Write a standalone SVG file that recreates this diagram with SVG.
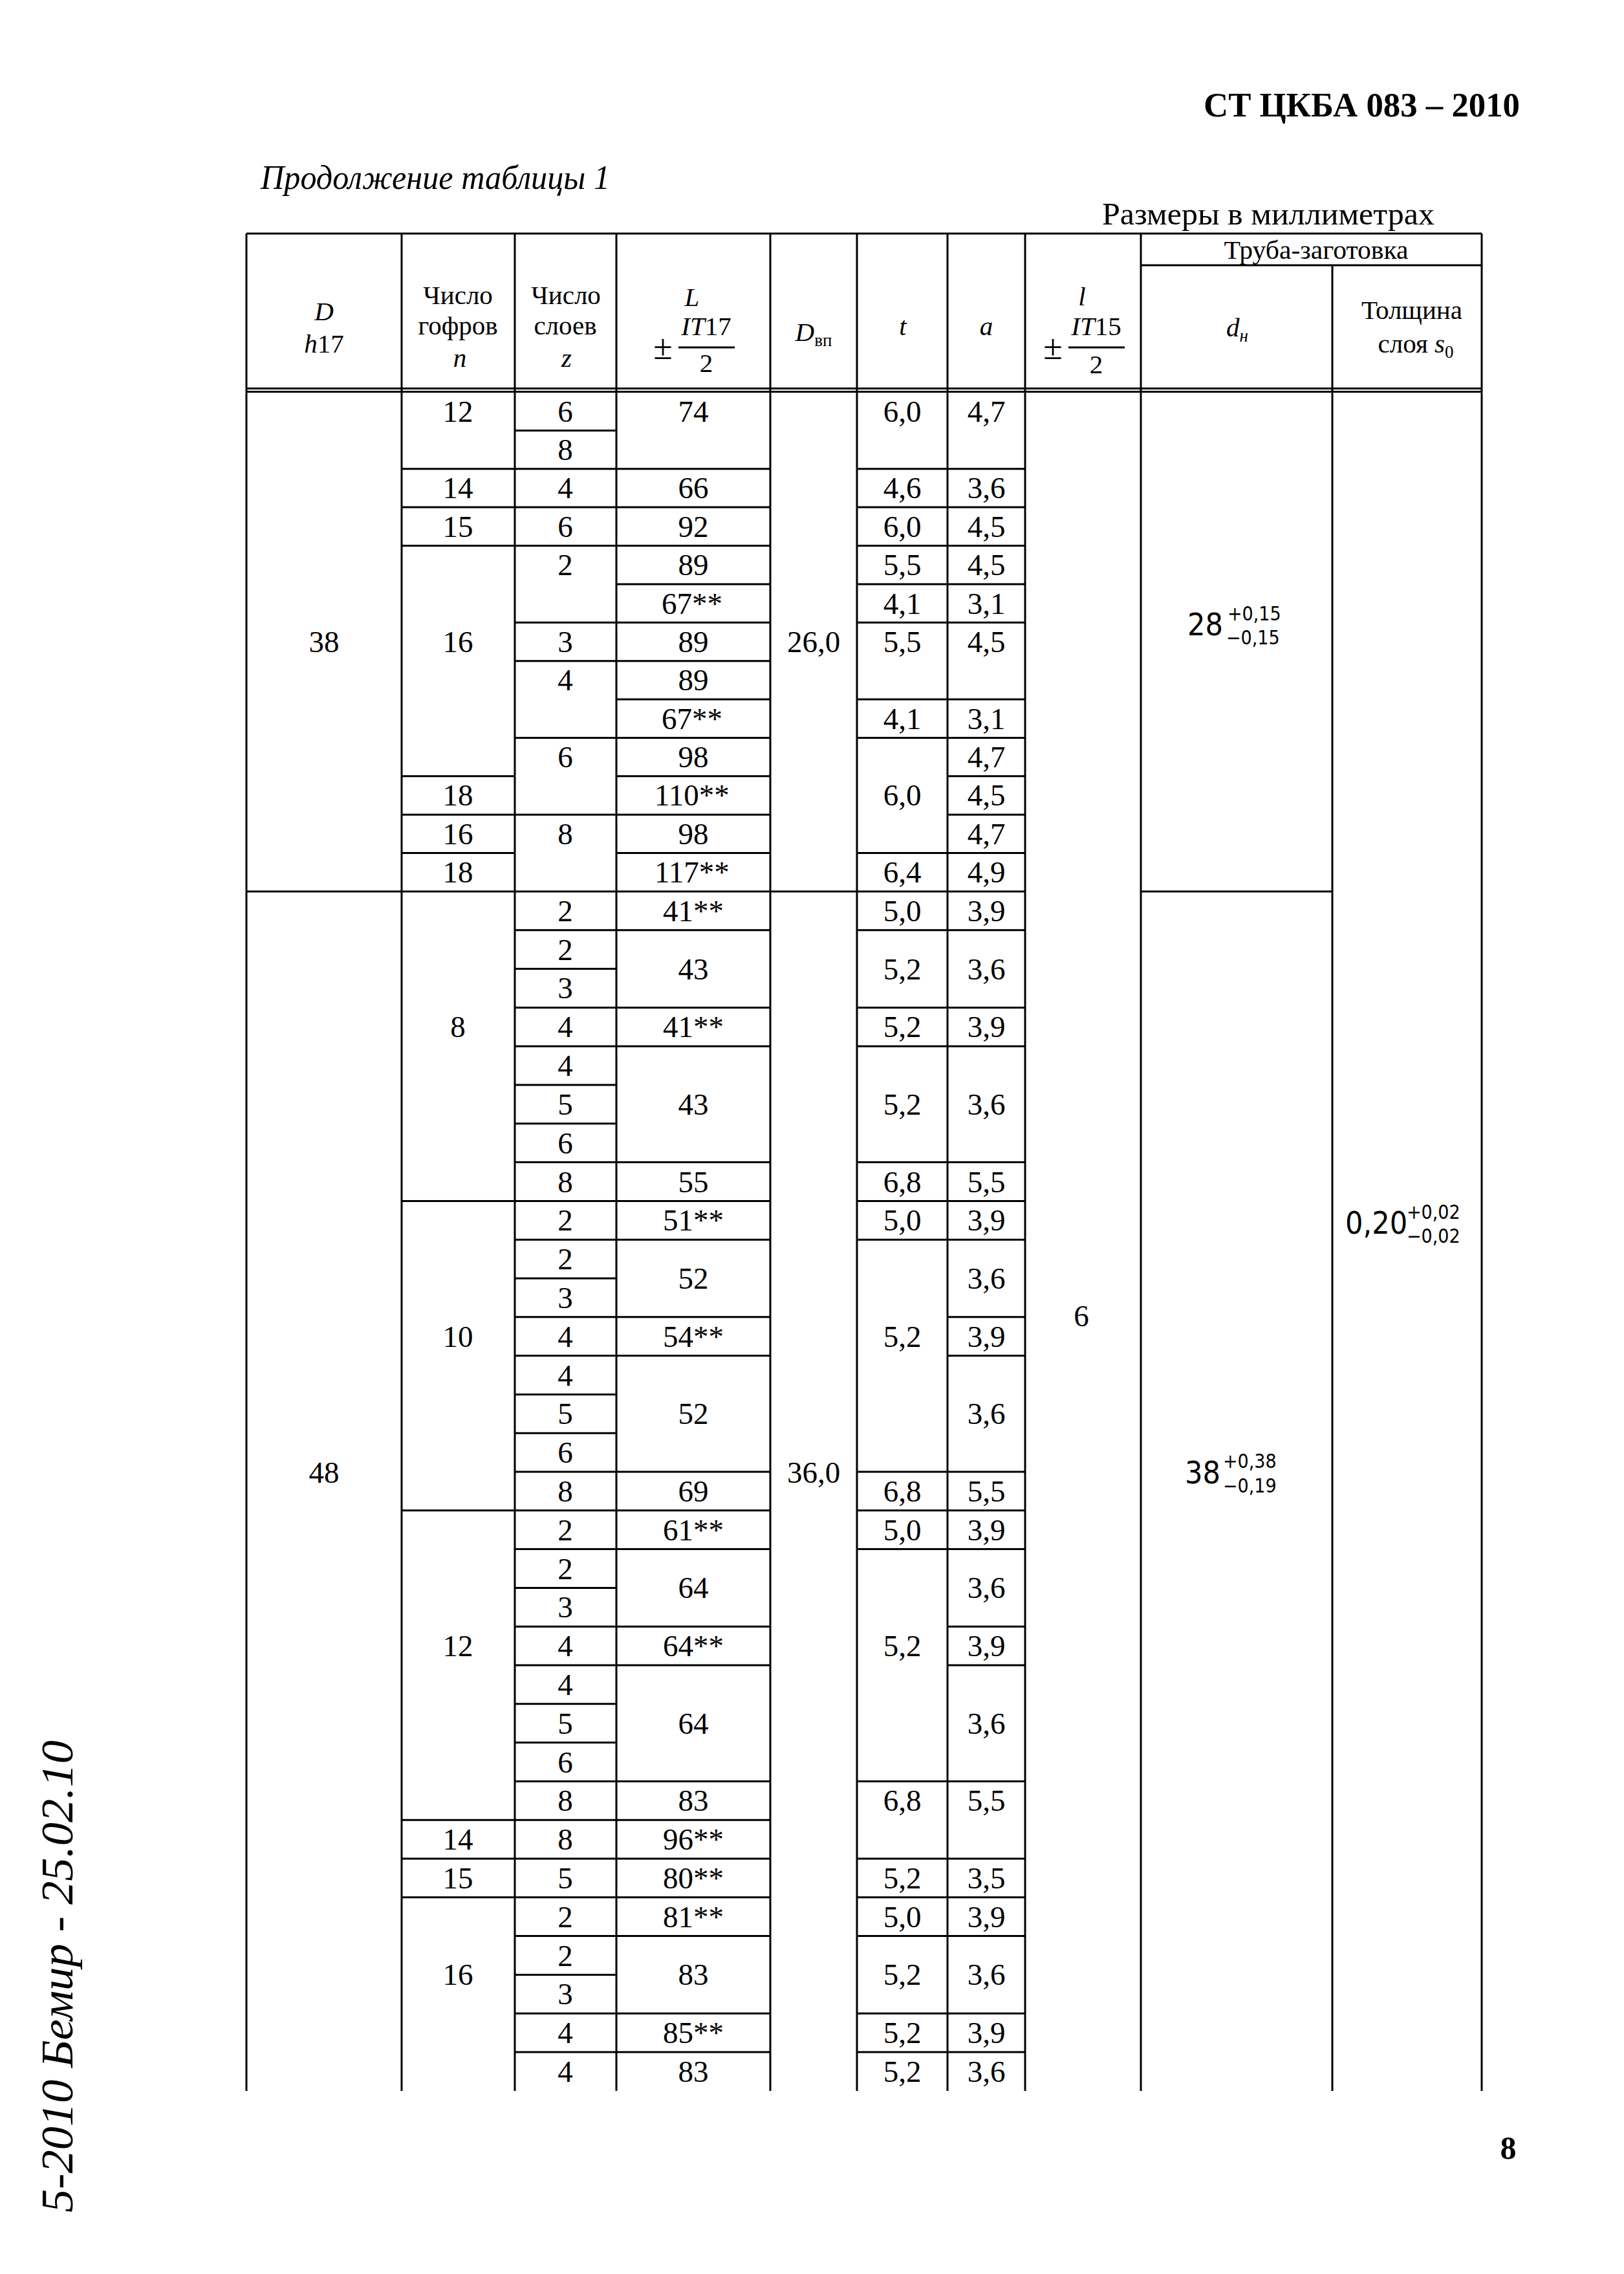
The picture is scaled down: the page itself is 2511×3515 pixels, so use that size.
<svg xmlns="http://www.w3.org/2000/svg" width="2511" height="3515" viewBox="0 0 2511 3515">
<style>
.g{stroke:#000;stroke-width:3;fill:none}
.b{font-family:"Liberation Serif","Times New Roman",serif;font-size:47px;text-anchor:middle;fill:#000}
.h{font-family:"Liberation Serif","Times New Roman",serif;font-size:41px;text-anchor:middle;fill:#000}
.pm{font-family:"Liberation Serif","Times New Roman",serif;font-size:54px;text-anchor:middle;fill:#000}
.m{font-family:"DejaVu Sans Condensed","DejaVu Sans",sans-serif;font-stretch:condensed;font-size:48px;fill:#000}
.ms{font-family:"DejaVu Sans Condensed","DejaVu Sans",sans-serif;font-stretch:condensed;font-size:30px;fill:#000}
.i{font-style:italic}
</style>
<rect width="2511" height="3515" fill="#fff"/>
<g id="page-header">
<text x="1861" y="180" font-family="Liberation Serif,serif" font-weight="bold" font-size="53" textLength="489" lengthAdjust="spacingAndGlyphs">СТ ЦКБА 083 – 2010</text>
<text x="403" y="292" font-family="Liberation Serif,serif" font-style="italic" font-size="52" textLength="540" lengthAdjust="spacingAndGlyphs">Продолжение таблицы 1</text>
<text x="1704" y="347" font-family="Liberation Serif,serif" font-size="48" textLength="514" lengthAdjust="spacingAndGlyphs">Размеры в миллиметрах</text>
</g>
<g id="grid" class="g">
<path d="M381 361H2291M1764 410H2291M381 600.5H2291M381 605.5H2291"/>
<path d="M381 361V3232M621 361V3232M796 361V3232M953 361V3232M1191 361V3232M1325 361V3232M1465 361V3232M1585 361V3232M1764 361V3232M2060 410V3232M2291 361V3232"/>
<path d="M1049 537H1136M1652 537H1739"/>
<path d="M796 665.4H953
M621 724.8H1191M1325 724.8H1585
M621 784.1H1191M1325 784.1H1585
M621 843.5H1191M1325 843.5H1585
M953 902.9H1191M1325 902.9H1585
M796 962.3H1191M1325 962.3H1585
M796 1021.7H1191
M953 1081H1191M1325 1081H1585
M796 1140.4H1191M1325 1140.4H1585
M621 1199.8H796M953 1199.8H1191M1465 1199.8H1585
M621 1259.2H1191M1465 1259.2H1585
M621 1318.6H796M953 1318.6H1191M1325 1318.6H1585
M381 1378H1585M1764 1378H2060"/>
<path d="M796 1437.8H1191M1325 1437.8H1585
M796 1497.6H953
M796 1557.4H1191M1325 1557.4H1585
M796 1617.2H1191M1325 1617.2H1585
M796 1677H953
M796 1736.8H953
M796 1796.6H1191M1325 1796.6H1585
M621 1856.4H1191M1325 1856.4H1585
M796 1916.2H1191M1325 1916.2H1585
M796 1976H953
M796 2035.8H1191M1465 2035.8H1585
M796 2095.6H1191M1465 2095.6H1585
M796 2155.4H953
M796 2215.2H953
M796 2275H1191M1325 2275H1585
M621 2334.8H1191M1325 2334.8H1585
M796 2394.6H1191M1325 2394.6H1585
M796 2454.4H953
M796 2514.2H1191M1465 2514.2H1585
M796 2574H1191M1465 2574H1585
M796 2633.8H953
M796 2693.6H953
M796 2753.4H1191M1325 2753.4H1585
M621 2813.2H1191
M621 2873H1191M1325 2873H1585
M621 2932.8H1191M1325 2932.8H1585
M796 2992.6H1191M1325 2992.6H1585
M796 3052.4H953
M796 3112.2H1191M1325 3112.2H1585
M796 3172H1191M1325 3172H1585"/>
</g>
<g id="table-head">
<text class="h i" x="501" y="495">D</text>
<text class="h" x="501" y="545"><tspan font-style="italic">h</tspan>17</text>
<text class="h" x="708" y="470">Число</text>
<text class="h" x="708" y="517">гофров</text>
<text class="h i" x="711" y="567">n</text>
<text class="h" x="875" y="470">Число</text>
<text class="h" x="874" y="517">слоев</text>
<text class="h i" x="876" y="567">z</text>
<text class="h i" x="1070" y="473">L</text>
<text class="h" x="1092" y="518"><tspan font-style="italic">IT</tspan>17</text>
<text class="pm" x="1025" y="555">±</text>
<text class="h" x="1092" y="575">2</text>
<text class="h" x="1258" y="527"><tspan font-style="italic">D</tspan><tspan font-size="27" dy="8">вп</tspan></text>
<text class="h i" x="1396" y="518">t</text>
<text class="h i" x="1525" y="518">a</text>
<text class="h i" x="1673" y="472">l</text>
<text class="h" x="1695" y="518"><tspan font-style="italic">IT</tspan>15</text>
<text class="pm" x="1628" y="555">±</text>
<text class="h" x="1695" y="577">2</text>
<text class="h" x="2035" y="400" textLength="285" lengthAdjust="spacingAndGlyphs">Труба-заготовка</text>
<text class="h" x="1913" y="520"><tspan font-style="italic">d</tspan><tspan font-style="italic" font-size="27" dy="8">н</tspan></text>
<text class="h" x="2183" y="493">Толщина</text>
<text class="h" x="2189" y="545">слоя <tspan font-style="italic">s</tspan><tspan font-size="27" dy="8">0</tspan></text>
</g>
<g id="col-D">
<text class="b" x="501" y="1008">38</text>
<text class="b" x="501" y="2292">48</text>
</g>
<g id="col-n">
<text class="b" x="708" y="652">12</text>
<text class="b" x="708" y="770">14</text>
<text class="b" x="708" y="830">15</text>
<text class="b" x="708" y="1008">16</text>
<text class="b" x="708" y="1245">18</text>
<text class="b" x="708" y="1305">16</text>
<text class="b" x="708" y="1364">18</text>
<text class="b" x="708" y="1603">8</text>
<text class="b" x="708" y="2082">10</text>
<text class="b" x="708" y="2560">12</text>
<text class="b" x="708" y="2859">14</text>
<text class="b" x="708" y="2919">15</text>
<text class="b" x="708" y="3068">16</text>
</g>
<g id="col-z">
<text class="b" x="874" y="652">6</text>
<text class="b" x="874" y="711">8</text>
<text class="b" x="874" y="770">4</text>
<text class="b" x="874" y="830">6</text>
<text class="b" x="874" y="889">2</text>
<text class="b" x="874" y="1008">3</text>
<text class="b" x="874" y="1067">4</text>
<text class="b" x="874" y="1186">6</text>
<text class="b" x="874" y="1305">8</text>
<text class="b" x="874" y="1424">2</text>
<text class="b" x="874" y="1484">2</text>
<text class="b" x="874" y="1543">3</text>
<text class="b" x="874" y="1603">4</text>
<text class="b" x="874" y="1663">4</text>
<text class="b" x="874" y="1723">5</text>
<text class="b" x="874" y="1783">6</text>
<text class="b" x="874" y="1843">8</text>
<text class="b" x="874" y="1902">2</text>
<text class="b" x="874" y="1962">2</text>
<text class="b" x="874" y="2022">3</text>
<text class="b" x="874" y="2082">4</text>
<text class="b" x="874" y="2142">4</text>
<text class="b" x="874" y="2201">5</text>
<text class="b" x="874" y="2261">6</text>
<text class="b" x="874" y="2321">8</text>
<text class="b" x="874" y="2381">2</text>
<text class="b" x="874" y="2441">2</text>
<text class="b" x="874" y="2500">3</text>
<text class="b" x="874" y="2560">4</text>
<text class="b" x="874" y="2620">4</text>
<text class="b" x="874" y="2680">5</text>
<text class="b" x="874" y="2740">6</text>
<text class="b" x="874" y="2799">8</text>
<text class="b" x="874" y="2859">8</text>
<text class="b" x="874" y="2919">5</text>
<text class="b" x="874" y="2979">2</text>
<text class="b" x="874" y="3039">2</text>
<text class="b" x="874" y="3098">3</text>
<text class="b" x="874" y="3158">4</text>
<text class="b" x="874" y="3218">4</text>
</g>
<g id="col-L">
<text class="b" x="1072" y="652">74</text>
<text class="b" x="1072" y="770">66</text>
<text class="b" x="1072" y="830">92</text>
<text class="b" x="1072" y="889">89</text>
<text class="b" x="1070" y="949">67**</text>
<text class="b" x="1072" y="1008">89</text>
<text class="b" x="1072" y="1067">89</text>
<text class="b" x="1070" y="1127">67**</text>
<text class="b" x="1072" y="1186">98</text>
<text class="b" x="1070" y="1245">110**</text>
<text class="b" x="1072" y="1305">98</text>
<text class="b" x="1070" y="1364">117**</text>
<text class="b" x="1072" y="1424">41**</text>
<text class="b" x="1072" y="1514">43</text>
<text class="b" x="1072" y="1603">41**</text>
<text class="b" x="1072" y="1723">43</text>
<text class="b" x="1072" y="1843">55</text>
<text class="b" x="1072" y="1902">51**</text>
<text class="b" x="1072" y="1992">52</text>
<text class="b" x="1072" y="2082">54**</text>
<text class="b" x="1072" y="2201">52</text>
<text class="b" x="1072" y="2321">69</text>
<text class="b" x="1072" y="2381">61**</text>
<text class="b" x="1072" y="2470">64</text>
<text class="b" x="1072" y="2560">64**</text>
<text class="b" x="1072" y="2680">64</text>
<text class="b" x="1072" y="2799">83</text>
<text class="b" x="1072" y="2859">96**</text>
<text class="b" x="1072" y="2919">80**</text>
<text class="b" x="1072" y="2979">81**</text>
<text class="b" x="1072" y="3068">83</text>
<text class="b" x="1072" y="3158">85**</text>
<text class="b" x="1072" y="3218">83</text>
</g>
<g id="col-Dvp">
<text class="b" x="1258" y="1008">26,0</text>
<text class="b" x="1258" y="2292">36,0</text>
</g>
<g id="col-t">
<text class="b" x="1395" y="652">6,0</text>
<text class="b" x="1395" y="770">4,6</text>
<text class="b" x="1395" y="830">6,0</text>
<text class="b" x="1395" y="889">5,5</text>
<text class="b" x="1395" y="949">4,1</text>
<text class="b" x="1395" y="1008">5,5</text>
<text class="b" x="1395" y="1127">4,1</text>
<text class="b" x="1395" y="1245">6,0</text>
<text class="b" x="1395" y="1364">6,4</text>
<text class="b" x="1395" y="1424">5,0</text>
<text class="b" x="1395" y="1514">5,2</text>
<text class="b" x="1395" y="1603">5,2</text>
<text class="b" x="1395" y="1723">5,2</text>
<text class="b" x="1395" y="1843">6,8</text>
<text class="b" x="1395" y="1902">5,0</text>
<text class="b" x="1395" y="2082">5,2</text>
<text class="b" x="1395" y="2321">6,8</text>
<text class="b" x="1395" y="2381">5,0</text>
<text class="b" x="1395" y="2560">5,2</text>
<text class="b" x="1395" y="2799">6,8</text>
<text class="b" x="1395" y="2919">5,2</text>
<text class="b" x="1395" y="2979">5,0</text>
<text class="b" x="1395" y="3068">5,2</text>
<text class="b" x="1395" y="3158">5,2</text>
<text class="b" x="1395" y="3218">5,2</text>
</g>
<g id="col-a">
<text class="b" x="1525" y="652">4,7</text>
<text class="b" x="1525" y="770">3,6</text>
<text class="b" x="1525" y="830">4,5</text>
<text class="b" x="1525" y="889">4,5</text>
<text class="b" x="1525" y="949">3,1</text>
<text class="b" x="1525" y="1008">4,5</text>
<text class="b" x="1525" y="1127">3,1</text>
<text class="b" x="1525" y="1186">4,7</text>
<text class="b" x="1525" y="1245">4,5</text>
<text class="b" x="1525" y="1305">4,7</text>
<text class="b" x="1525" y="1364">4,9</text>
<text class="b" x="1525" y="1424">3,9</text>
<text class="b" x="1525" y="1514">3,6</text>
<text class="b" x="1525" y="1603">3,9</text>
<text class="b" x="1525" y="1723">3,6</text>
<text class="b" x="1525" y="1843">5,5</text>
<text class="b" x="1525" y="1902">3,9</text>
<text class="b" x="1525" y="1992">3,6</text>
<text class="b" x="1525" y="2082">3,9</text>
<text class="b" x="1525" y="2201">3,6</text>
<text class="b" x="1525" y="2321">5,5</text>
<text class="b" x="1525" y="2381">3,9</text>
<text class="b" x="1525" y="2470">3,6</text>
<text class="b" x="1525" y="2560">3,9</text>
<text class="b" x="1525" y="2680">3,6</text>
<text class="b" x="1525" y="2799">5,5</text>
<text class="b" x="1525" y="2919">3,5</text>
<text class="b" x="1525" y="2979">3,9</text>
<text class="b" x="1525" y="3068">3,6</text>
<text class="b" x="1525" y="3158">3,9</text>
<text class="b" x="1525" y="3218">3,6</text>
</g>
<g id="col-l">
<text class="b" x="1672" y="2050">6</text>
</g>
<g id="col-d">
<text class="m" x="1836" y="982">28</text>
<text class="ms" x="1898" y="959">+0,15</text>
<text class="ms" x="1896" y="996">−0,15</text>
<text class="m" x="1832" y="2293">38</text>
<text class="ms" x="1891" y="2269">+0,38</text>
<text class="ms" x="1891" y="2307">−0,19</text>
</g>
<g id="col-s">
<text class="m" x="2080" y="1907">0,20</text>
<text class="ms" x="2175" y="1884">+0,02</text>
<text class="ms" x="2175" y="1921">−0,02</text>
</g>
<g id="margin-note">
<text transform="translate(112,3420) rotate(-90)" font-family="Liberation Serif,serif" font-style="italic" font-size="70" textLength="730" lengthAdjust="spacingAndGlyphs">5-2010 Бемир - 25.02.10</text>
</g>
<g id="page-number">
<text x="2332" y="3337" font-family="Liberation Serif,serif" font-weight="bold" font-size="50" text-anchor="middle">8</text>
</g>
</svg>
